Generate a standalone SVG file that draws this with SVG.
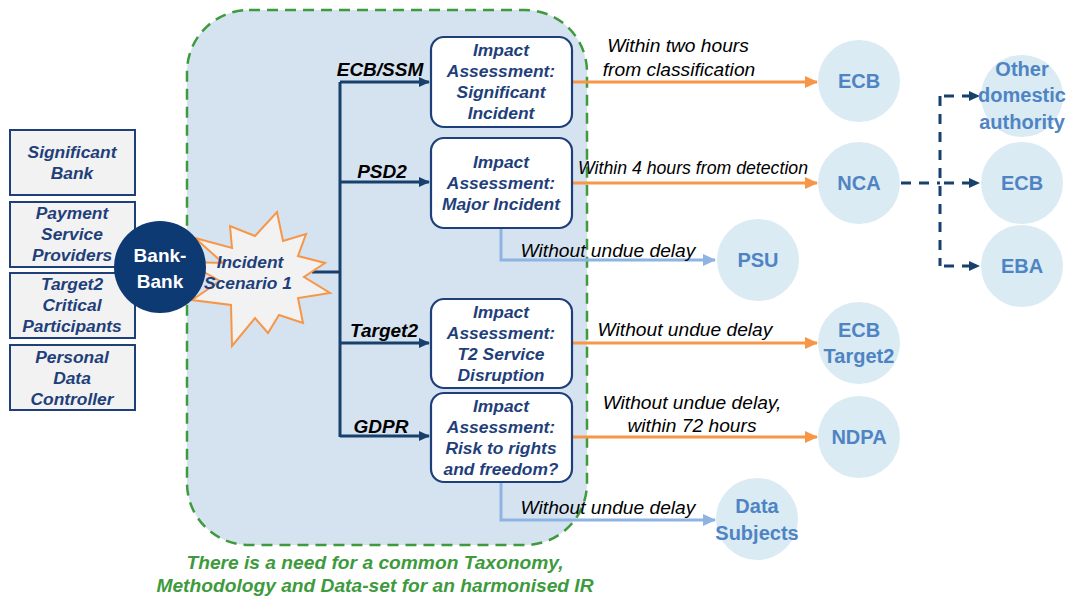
<svg xmlns="http://www.w3.org/2000/svg" width="1070" height="598" viewBox="0 0 1070 598">
<style>
.lbox{fill:#F2F2F2;stroke:#1F3F7A;stroke-width:2}
.ltxt{font-family:"Liberation Sans",Arial,sans-serif;font-weight:bold;font-style:italic;font-size:17.4px;fill:#1F3F7A;text-anchor:middle}
.ibox{fill:#FFFFFF;stroke:#1F3F7A;stroke-width:2.2}
.itxt{font-family:"Liberation Sans",Arial,sans-serif;font-weight:bold;font-style:italic;font-size:17.4px;fill:#1F3F7A;text-anchor:middle}
.btxt{font-family:"Liberation Sans",Arial,sans-serif;font-weight:bold;font-style:italic;font-size:19px;fill:#000000;text-anchor:middle}
.etxt{font-family:"Liberation Sans",Arial,sans-serif;font-style:italic;font-size:19.2px;fill:#000000;text-anchor:middle}
.circ{fill:#DAEBF3}
.ctxt{font-family:"Liberation Sans",Arial,sans-serif;font-weight:bold;font-size:20px;fill:#4F84C4;text-anchor:middle}
.navy{stroke:#17406D;stroke-width:3;fill:none}
.orange{stroke:#F79646;stroke-width:3;fill:none}
.lblue{stroke:#8DB4E2;stroke-width:3;fill:none}
.dash{stroke:#17406D;stroke-width:3;fill:none;stroke-dasharray:10 8}
.foot{font-family:"Liberation Sans",Arial,sans-serif;font-weight:bold;font-style:italic;font-size:19.2px;fill:#3D9A3D;text-anchor:middle}
</style>
<defs>
<marker id="mNavy" markerUnits="userSpaceOnUse" markerWidth="12" markerHeight="12" refX="10" refY="6" orient="auto"><path d="M0,1 L11,6 L0,11 Z" fill="#17406D"/></marker>
<marker id="mOrange" markerUnits="userSpaceOnUse" markerWidth="14" markerHeight="14" refX="12" refY="7" orient="auto"><path d="M0,1 L13,7 L0,13 Z" fill="#F79646"/></marker>
<marker id="mBlue" markerUnits="userSpaceOnUse" markerWidth="14" markerHeight="14" refX="12" refY="7" orient="auto"><path d="M0,1 L13,7 L0,13 Z" fill="#8DB4E2"/></marker>
</defs>
<rect width="1070" height="598" fill="#FFFFFF"/>

<g id="container">
<rect x="187" y="10" width="400" height="535" rx="62" ry="62" fill="#D5E2EF" stroke="#3D9A3D" stroke-width="2.5" stroke-dasharray="11 7"/>
</g>

<g id="connectors">
<path class="navy" d="M312,272 H340"/>
<path class="navy" d="M340,82 V437"/>
<path class="navy" d="M340,82 H429" marker-end="url(#mNavy)"/>
<path class="navy" d="M340,182 H429" marker-end="url(#mNavy)"/>
<path class="navy" d="M340,343 H429" marker-end="url(#mNavy)"/>
<path class="navy" d="M340,436 H429" marker-end="url(#mNavy)"/>
<path class="orange" d="M572,82 H817" marker-end="url(#mOrange)"/>
<path class="orange" d="M572,183 H817" marker-end="url(#mOrange)"/>
<path class="orange" d="M572,343 H817" marker-end="url(#mOrange)"/>
<path class="orange" d="M572,437 H817" marker-end="url(#mOrange)"/>
<path class="lblue" d="M501,228 V260 H715" marker-end="url(#mBlue)"/>
<path class="lblue" d="M501,482 V520 H715" marker-end="url(#mBlue)"/>
<path class="dash" d="M901,183 H940"/>
<path class="dash" d="M940,96 V266"/>
<path class="dash" d="M944,96 H979" marker-end="url(#mNavy)"/>
<path class="dash" d="M944,183 H979" marker-end="url(#mNavy)"/>
<path class="dash" d="M944,266 H979" marker-end="url(#mNavy)"/>
<text class="btxt" x="380" y="76">ECB/SSM</text>
<text class="btxt" x="382" y="178">PSD2</text>
<text class="btxt" x="384" y="337">Target2</text>
<text class="btxt" x="381" y="433">GDPR</text>
<text class="etxt" x="678" y="52">Within two hours</text>
<text class="etxt" x="679" y="76">from classification</text>
<text class="etxt" x="693" y="174" textLength="230" lengthAdjust="spacingAndGlyphs">Within 4 hours from detection</text>
<text class="etxt" x="608" y="257">Without undue delay</text>
<text class="etxt" x="685" y="336">Without undue delay</text>
<text class="etxt" x="692" y="409">Without undue delay,</text>
<text class="etxt" x="692" y="432">within 72 hours</text>
<text class="etxt" x="608" y="514">Without undue delay</text>
</g>

<g id="left-boxes">
<g id="significant-bank"><rect class="lbox" x="10" y="130" width="125" height="65"/>
<text class="ltxt" x="72" y="158">Significant</text><text class="ltxt" x="72" y="179">Bank</text></g>
<g id="psp"><rect class="lbox" x="10" y="202" width="125" height="65"/>
<text class="ltxt" x="72" y="219">Payment</text><text class="ltxt" x="72" y="240">Service</text><text class="ltxt" x="72" y="261">Providers</text></g>
<g id="target2-participants"><rect class="lbox" x="10" y="273" width="125" height="65"/>
<text class="ltxt" x="72" y="290">Target2</text><text class="ltxt" x="72" y="311">Critical</text><text class="ltxt" x="72" y="332">Participants</text></g>
<g id="pdc"><rect class="lbox" x="10" y="345" width="125" height="65"/>
<text class="ltxt" x="72" y="363">Personal</text><text class="ltxt" x="72" y="384">Data</text><text class="ltxt" x="72" y="405">Controller</text></g>
</g>

<g id="incident">
<polygon points="330,293 298,298 303,323 279,315 268,333 255,318 232,346 231,305 192,300 220,281 186,262 223,263 195,238 232,248 230,226 255,236 277,212 283,241 306,234 298,256 325,263 304,277" fill="#F2F2F2" stroke="#F79646" stroke-width="2" stroke-linejoin="miter"/>
<text class="itxt" x="250" y="268">Incident</text>
<text class="itxt" x="248" y="289">Scenario 1</text>
</g>

<g id="bank-bank">
<circle cx="160" cy="267" r="46" fill="#0E3A73"/>
<text x="160" y="262" font-family="Liberation Sans,Arial,sans-serif" font-weight="bold" font-size="19" fill="#FFFFFF" text-anchor="middle">Bank-</text>
<text x="160" y="288" font-family="Liberation Sans,Arial,sans-serif" font-weight="bold" font-size="19" fill="#FFFFFF" text-anchor="middle">Bank</text>
</g>

<g id="ia-significant"><rect class="ibox" x="431" y="37" width="141" height="90" rx="13"/>
<text class="itxt" x="501" y="56">Impact</text><text class="itxt" x="501" y="77">Assessment:</text><text class="itxt" x="501" y="98">Significant</text><text class="itxt" x="501" y="119">Incident</text></g>
<g id="ia-major"><rect class="ibox" x="431" y="138" width="141" height="90" rx="13"/>
<text class="itxt" x="501" y="168">Impact</text><text class="itxt" x="501" y="189">Assessment:</text><text class="itxt" x="501" y="210">Major Incident</text></g>
<g id="ia-t2"><rect class="ibox" x="431" y="299" width="141" height="89" rx="13"/>
<text class="itxt" x="501" y="318">Impact</text><text class="itxt" x="501" y="339">Assessment:</text><text class="itxt" x="501" y="360">T2 Service</text><text class="itxt" x="501" y="381">Disruption</text></g>
<g id="ia-gdpr"><rect class="ibox" x="431" y="393" width="141" height="89" rx="13"/>
<text class="itxt" x="501" y="412">Impact</text><text class="itxt" x="501" y="433">Assessment:</text><text class="itxt" x="501" y="454">Risk to rights</text><text class="itxt" x="501" y="475">and freedom?</text></g>

<g id="ecb"><circle class="circ" cx="859" cy="81" r="41"/><text class="ctxt" x="859" y="88">ECB</text></g>
<g id="nca"><circle class="circ" cx="859" cy="183" r="41"/><text class="ctxt" x="859" y="190">NCA</text></g>
<g id="psu"><circle class="circ" cx="758" cy="260" r="41"/><text class="ctxt" x="758" y="267">PSU</text></g>
<g id="ecb-target2"><circle class="circ" cx="859" cy="343" r="41"/><text class="ctxt" x="859" y="337">ECB</text><text class="ctxt" x="859" y="363">Target2</text></g>
<g id="ndpa"><circle class="circ" cx="859" cy="437" r="41"/><text class="ctxt" x="859" y="444">NDPA</text></g>
<g id="data-subjects"><circle class="circ" cx="757" cy="519" r="41"/><text class="ctxt" x="757" y="513">Data</text><text class="ctxt" x="757" y="540">Subjects</text></g>
<g id="other-authority"><circle class="circ" cx="1022" cy="96" r="41"/><text class="ctxt" x="1022" y="76">Other</text><text class="ctxt" x="1022" y="102">domestic</text><text class="ctxt" x="1022" y="129">authority</text></g>
<g id="ecb2"><circle class="circ" cx="1022" cy="183" r="41"/><text class="ctxt" x="1022" y="190">ECB</text></g>
<g id="eba"><circle class="circ" cx="1022" cy="266" r="41"/><text class="ctxt" x="1022" y="273">EBA</text></g>

<g id="footer">
<text class="foot" x="375" y="569">There is a need for a common Taxonomy,</text>
<text class="foot" x="375" y="592">Methodology  and Data-set for an harmonised IR</text>
</g>
</svg>
